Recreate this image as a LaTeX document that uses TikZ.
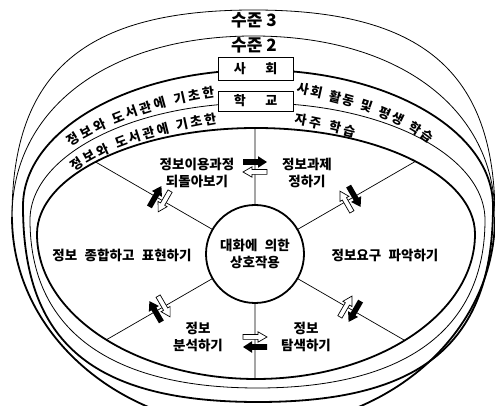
\documentclass[tikz,border=0pt]{standalone}
\usepackage{fontspec}
\newfontfamily\kr{Noto Sans CJK KR}
\usetikzlibrary{decorations.text,intersections}
\newcommand\gap{\hspace{0.55em}}
\tikzset{
  thinln/.style={line width=0.8pt},
  thickln/.style={line width=1.8pt},
  spoke/.style={line width=0.7pt},
  lbl/.style={font=\kr\bfseries\fontsize{13.5}{16.5}\selectfont, align=center, inner sep=0pt},
  lvl/.style={font=\kr\bfseries\fontsize{17}{17}\selectfont, inner sep=0pt},
  boxn/.style={draw, fill=white, line width=0.8pt, minimum width=75pt, inner sep=0pt, font=\kr\bfseries\fontsize{13}{13}\selectfont},
  blackarr/.pic={\fill[black] (-12,-2.8) -- (3,-2.8) -- (3,-5.8) -- (12,0) -- (3,5.8) -- (3,2.8) -- (-12,2.8) -- cycle;},
  whitearr/.pic={\filldraw[fill=white, draw=black, line width=0.7pt] (-12,-2.4) -- (3,-2.4) -- (3,-5.2) -- (12,0) -- (3,5.2) -- (3,2.4) -- (-12,2.4) -- cycle;},
  arctext/.style={decorate, decoration={text along path, text align={fit to path}, text={|\kr\bfseries\fontsize{13}{13}\selectfont|#1}}}
}
\begin{document}
\begin{tikzpicture}[x=1pt,y=1pt]
\useasboundingbox (0,0) rectangle (495,406);
\clip (0,0) rectangle (495,406);
% level 3 and level 2 arcs, merging into the outer rim
\draw[thinln] (12,189) .. controls (12,334) and (84.5,396) .. (253.5,396) .. controls (422.5,396) and (495,334) .. (495,189);
\draw[thinln] (12,189) .. controls (12,297.6) and (108.6,370) .. (253.5,370) .. controls (398.4,370) and (495,297.6) .. (495,189);
\draw[thickln] (12,189) .. controls (12,72.5) and (120.2,-22) .. (253.5,-22) .. controls (386.8,-22) and (495,72.5) .. (495,189);
% society ring (thick)
\draw[thickln] (23,200) .. controls (23,275.1) and (128.3,336) .. (258,336) .. controls (387.7,336) and (493,275.1) .. (493,200) .. controls (493,62.8) and (422.5,4) .. (258,4) .. controls (93.5,4) and (23,62.8) .. (23,200) -- cycle;
% school ring (thin)
\draw[thinln] (30,186) .. controls (30,250.6) and (131.9,303) .. (257.5,303) .. controls (383.1,303) and (485,250.6) .. (485,186) .. controls (485,76.8) and (405.4,18) .. (257.5,18) .. controls (109.6,18) and (30,76.8) .. (30,186) -- cycle;
% inner ring (thick)
\draw[thickln, name path=inner] (37,172) .. controls (37,230.5) and (135.1,278) .. (256,278) .. controls (376.9,278) and (475,230.5) .. (475,172) .. controls (475,92) and (376.9,27) .. (256,27) .. controls (135.1,27) and (37,92) .. (37,172) -- cycle;
% centre circle
\node[draw, circle, line width=1.8pt, minimum size=98pt, inner sep=0pt, outer sep=0pt, lbl] (c) at (255,152) {대화에\gap 의한\\상호작용};
% spokes
\foreach \a in {30,90,150,210,270,330}{
  \path[name path=ray\a] (c.center) -- ++(\a:320);
  \path[name intersections={of=inner and ray\a, by={e\a}}];
  \draw[spoke] (c.\a) -- (e\a);
}
% level labels and boxes
\node[lvl] (l3) at (254,385.5) {수준 3};
\node[lvl] (l2) at (254,361) {수준 2};
\node[boxn, minimum height=23pt] (soc) at (255.5,337.5) {사\hspace{1.5em}회};
\node[boxn, minimum height=20pt] (sch) at (255.5,305) {학\hspace{1.5em}교};
% texts along the rings
\path[arctext={정보와 도서관에 기초한}] (71,259) .. controls (110,285) and (165.5,302) .. (215,309);
\path[arctext={정보와 도서관에 기초한}] (75,234) .. controls (113,262) and (168,274) .. (217,283);
\path[arctext={사회 활동 및 평생 학습}] (296,313) .. controls (345,303) and (392,291) .. (429,262);
\path[arctext={자주 학습}] (294,282) .. controls (314,279) and (334,274) .. (354,269);
% stage labels
\node[lbl] (s1) at (197,233) {정보이용과정\\되돌아보기};
\node[lbl] (s2) at (307,233) {정보과제\\정하기};
\node[lbl] (s3) at (385,151) {정보요구\gap 파악하기};
\node[lbl] (s4) at (306,69) {정보\\탐색하기};
\node[lbl] (s5) at (198,69) {정보\\분석하기};
\node[lbl] (s6) at (122,151) {정보\gap 종합하고\gap 표현하기};
% cycle arrows (black = clockwise, white = counter-clockwise)
\pic[rotate=0] at (255,244) {blackarr};
\pic[rotate=180] at (255,234) {whitearr};
\pic[rotate=-60] at (354.6,209.5) {blackarr};
\pic[rotate=120] at (345.9,204.5) {whitearr};
\pic[rotate=240] at (354.6,94.5) {blackarr};
\pic[rotate=60] at (345.9,99.5) {whitearr};
\pic[rotate=180] at (255,59) {blackarr};
\pic[rotate=0] at (255,69) {whitearr};
\pic[rotate=120] at (155.4,94.5) {blackarr};
\pic[rotate=300] at (164.1,99.5) {whitearr};
\pic[rotate=60] at (155.4,209.5) {blackarr};
\pic[rotate=240] at (164.1,204.5) {whitearr};
\end{tikzpicture}
\end{document}
